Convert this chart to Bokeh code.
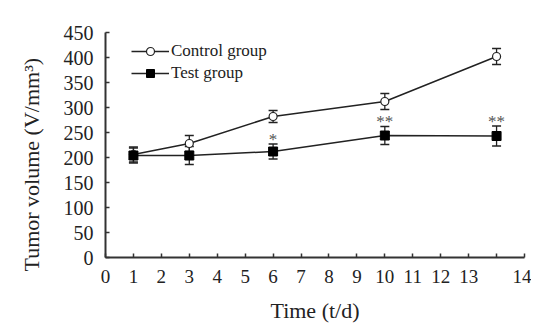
from bokeh.plotting import figure
from bokeh.models import (ColumnDataSource, Whisker, TeeHead, FixedTicker, Legend, LegendItem,
                          Range1d, Title)
from bokeh.core.properties import value
from bokeh.embed import file_html
from bokeh.resources import INLINE

# ---- data ----
days = [1, 3, 6, 10, 14]
control_mean = [206, 228, 282, 312, 402]
control_err = [15, 16, 12, 16, 16]
test_mean = [204, 204, 212, 244, 243]
test_err = [15, 18, 15, 18, 20]
test_sig = ["", "", "*", "**", "**"]
x_ticks = list(range(0, 16))
x_tick_labels = ["0", "1", "2", "3", "4", "5", "6", "7", "8", "9", "10", "11", "12", "13", "", "14"]
y_ticks = [0, 50, 100, 150, 200, 250, 300, 350, 400, 450]
y_title = "Tumor volume (V/mm³)"
x_title = "Time (t/d)"

FONT = "Liberation Serif"
INK = "#222222"

ctrl = ColumnDataSource(dict(x=days, y=control_mean,
                             lo=[m - e for m, e in zip(control_mean, control_err)],
                             hi=[m + e for m, e in zip(control_mean, control_err)]))
test = ColumnDataSource(dict(x=days, y=test_mean,
                             lo=[m - e for m, e in zip(test_mean, test_err)],
                             hi=[m + e for m, e in zip(test_mean, test_err)],
                             sig=test_sig))

p = figure(width=531, height=325, output_backend="svg", toolbar_location=None,
           x_range=Range1d(0, 15), y_range=Range1d(0, 450),
           min_border_left=105, min_border_right=7, min_border_top=32, min_border_bottom=67)
p.outline_line_color = None
p.grid.visible = False
p.background_fill_color = "white"
p.border_fill_color = "white"

for src in (ctrl, test):
    w = Whisker(source=src, base="x", lower="lo", upper="hi",
                line_color=INK, line_width=1.3,
                upper_head=TeeHead(size=9, line_color=INK, line_width=1.3),
                lower_head=TeeHead(size=9, line_color=INK, line_width=1.3))
    p.add_layout(w)

l1 = p.line("x", "y", source=ctrl, line_color=INK, line_width=1.5)
m1 = p.scatter("x", "y", source=ctrl, marker="circle", size=8, fill_color="white",
               line_color=INK, line_width=1.2)
l2 = p.line("x", "y", source=test, line_color=INK, line_width=1.5)
m2 = p.scatter("x", "y", source=test, marker="square", size=9, fill_color="black",
               line_color="black")

p.text(x="x", y="hi", text="sig", source=test, text_font=value(FONT), text_font_size="17px",
       text_color="#555555", text_align="center", text_baseline="alphabetic", y_offset=-5)

legend = Legend(items=[LegendItem(label="Control group", renderers=[l1, m1]),
                       LegendItem(label="Test group", renderers=[l2, m2])],
                location=(26, 174))
legend.border_line_color = None
legend.background_fill_alpha = 0
legend.margin = 0
legend.padding = 8
legend.spacing = 2
legend.glyph_width = 38
legend.glyph_height = 20
legend.label_height = 20
legend.label_standoff = 2
legend.label_text_font = FONT
legend.label_text_font_size = "17px"
legend.label_text_color = INK
p.add_layout(legend)

xa = p.xaxis[0]
xa.ticker = FixedTicker(ticks=x_ticks)
xa.major_label_overrides = {t: lab for t, lab in zip(x_ticks, x_tick_labels)}
xa.minor_tick_line_color = None
xa.major_tick_in = 4
xa.major_tick_out = 0
xa.axis_line_width = 2
xa.axis_line_color = "#333333"
xa.major_tick_line_color = "#333333"
xa.major_tick_line_width = 1.5
xa.major_label_text_font = FONT
xa.major_label_text_font_size = "19px"
xa.major_label_text_color = INK
xa.major_label_standoff = 12
xa.axis_label = x_title
xa.axis_label_text_font = FONT
xa.axis_label_text_font_size = "22px"
xa.axis_label_text_font_style = "normal"
xa.axis_label_text_color = INK
xa.axis_label_standoff = 12

ya = p.yaxis[0]
ya.ticker = FixedTicker(ticks=y_ticks)
ya.minor_tick_line_color = None
ya.major_tick_in = 4
ya.major_tick_out = 0
ya.axis_line_width = 2
ya.axis_line_color = "#333333"
ya.major_tick_line_color = "#333333"
ya.major_tick_line_width = 1.5
ya.major_label_text_font = FONT
ya.major_label_text_font_size = "20px"
ya.major_label_text_color = INK
ya.major_label_standoff = 12

ytitle = Title(text=y_title, align="left", offset=-14, standoff=33,
               text_font=FONT, text_font_size="22px", text_color=INK,
               text_font_style="normal")
p.add_layout(ytitle, "left")

open("out.html", "w").write(file_html(p, INLINE))
